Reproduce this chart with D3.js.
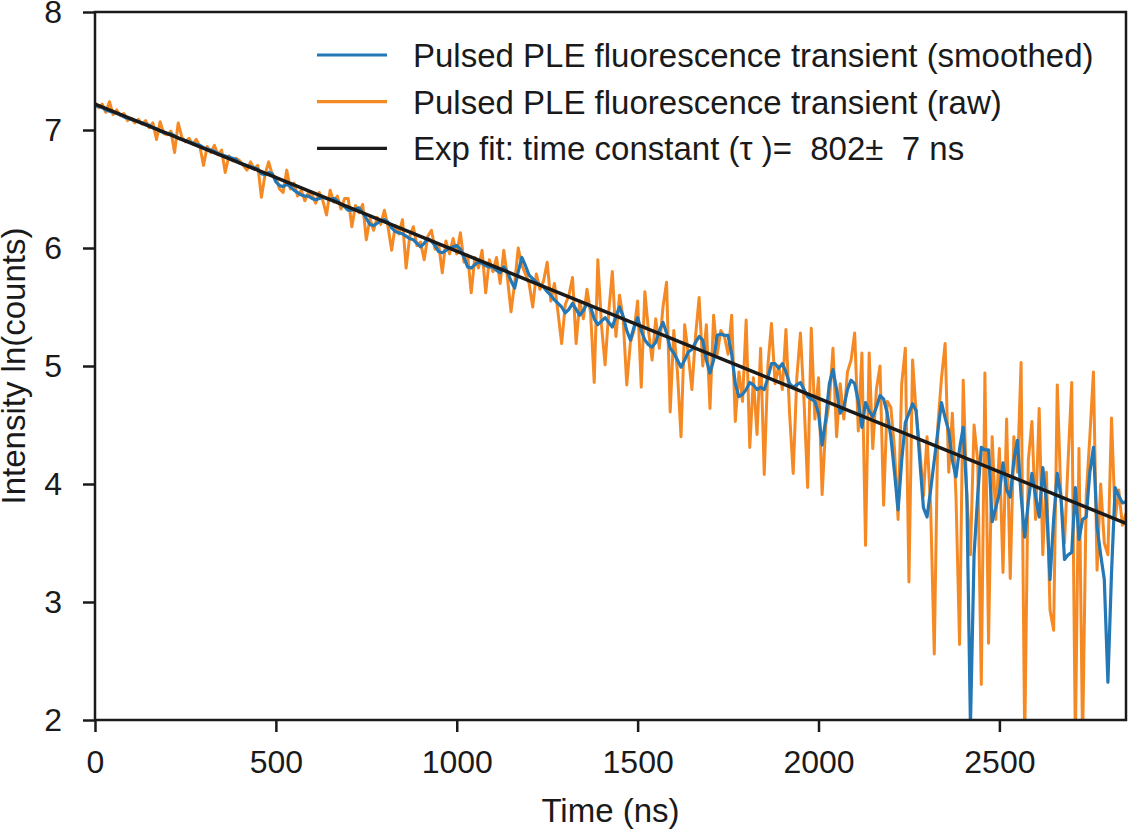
<!DOCTYPE html>
<html>
<head>
<meta charset="utf-8">
<script src="https://cdn.jsdelivr.net/npm/d3@7"></script>
<style>
body { margin: 0; background: #fff; }
text { font-family: "Liberation Sans", Arial, sans-serif; fill: #1a1a1a; }
</style>
</head>
<body>
<svg></svg>
<script>
// time axis, one sample every 10 ns
var timeStep = 10
var times = d3.range(0, 2851, timeStep)

// raw transient, ln(counts)
var rawCounts = [
  7.23, 7.19, 7.22, 7.15, 7.24, 7.13, 7.17, 7.12, 7.14, 7.08,
  7.10, 7.06, 7.09, 7.05, 7.08, 7.02, 7.06, 6.92, 7.07, 6.97,
  6.96, 6.99, 6.81, 7.06, 6.94, 6.90, 6.93, 6.88, 6.92, 6.86,
  6.70, 6.86, 6.81, 6.87, 6.79, 6.83, 6.64, 6.78, 6.74, 6.76,
  6.74, 6.70, 6.66, 6.73, 6.67, 6.70, 6.43, 6.62, 6.73, 6.62,
  6.60, 6.50, 6.47, 6.66, 6.50, 6.55, 6.44, 6.49, 6.40, 6.47,
  6.45, 6.38, 6.47, 6.40, 6.28, 6.49, 6.39, 6.44, 6.33, 6.42,
  6.42, 6.18, 6.36, 6.30, 6.37, 6.07, 6.25, 6.15, 6.26, 6.20,
  6.32, 6.18, 5.98, 6.19, 6.12, 6.24, 5.83, 6.10, 6.18, 6.02,
  6.05, 5.90, 6.10, 6.15, 5.99, 6.03, 5.79, 6.06, 5.95, 6.08,
  5.95, 6.13, 5.88, 5.94, 5.62, 5.92, 5.83, 5.98, 5.62, 5.90,
  5.80, 5.92, 5.70, 5.98, 5.75, 5.46, 5.70, 6.00, 5.85, 5.78,
  5.70, 5.50, 5.78, 5.65, 5.72, 5.88, 5.55, 5.70, 5.45, 5.19,
  5.52, 5.60, 5.75, 5.19, 5.55, 5.40, 5.65, 5.45, 4.86, 5.90,
  5.35, 5.01, 5.45, 5.80, 5.25, 5.60, 5.40, 4.84, 5.20, 5.30,
  5.55, 4.82, 5.63, 5.30, 5.05, 5.40, 5.15, 5.50, 5.71, 4.61,
  5.30, 4.95, 4.40, 5.35, 5.10, 4.80, 5.25, 5.58, 5.00, 5.35,
  4.64, 5.43, 5.10, 5.30, 5.25, 5.10, 5.43, 4.53, 4.95, 4.70,
  5.39, 4.31, 4.90, 4.42, 5.15, 4.08, 5.00, 5.36, 4.85, 5.00,
  4.80, 5.31, 4.60, 4.09, 4.90, 5.28, 4.70, 3.97, 5.32, 4.55,
  4.90, 3.91, 4.50, 4.70, 5.15, 4.40, 4.85, 4.55, 4.95, 5.05,
  5.28, 4.45, 5.11, 3.48, 5.11, 4.30, 4.80, 5.00, 3.82, 4.70,
  4.65, 4.30, 3.70, 4.85, 5.15, 3.17, 5.05, 4.60, 4.30, 3.90,
  4.40, 3.80, 2.56, 4.50, 4.90, 5.19, 4.10, 4.60, 3.90, 2.64,
  4.88, 3.90, 3.40, 4.50, 4.20, 2.30, 4.94, 2.65, 4.40, 3.70,
  4.30, 3.25, 4.55, 3.20, 4.40, 4.10, 5.03, 1.80, 4.20, 4.53,
  3.70, 4.64, 3.40, 4.10, 2.93, 2.76, 4.84, 3.90, 3.50, 4.20,
  4.86, 1.80, 4.30, 1.80, 3.90, 4.40, 4.95, 3.27, 4.00, 3.50,
  3.40, 4.56, 3.70, 3.95, 3.65, 3.75
]

// smoothed transient, ln(counts)
var smoothCounts = [
  7.21, 7.20, 7.19, 7.17, 7.16, 7.15, 7.14, 7.13, 7.11, 7.10,
  7.09, 7.08, 7.07, 7.06, 7.05, 7.04, 7.02, 7.01, 6.99, 6.98,
  6.97, 6.97, 6.95, 6.93, 6.92, 6.91, 6.90, 6.89, 6.88, 6.87,
  6.85, 6.84, 6.83, 6.82, 6.80, 6.79, 6.78, 6.77, 6.76, 6.75,
  6.72, 6.71, 6.70, 6.69, 6.68, 6.67, 6.63, 6.62, 6.64, 6.63,
  6.56, 6.53, 6.52, 6.54, 6.52, 6.49, 6.47, 6.45, 6.44, 6.44,
  6.42, 6.41, 6.42, 6.43, 6.42, 6.41, 6.42, 6.40, 6.37, 6.35,
  6.32, 6.32, 6.33, 6.34, 6.30, 6.25, 6.20, 6.19, 6.21, 6.23,
  6.24, 6.22, 6.17, 6.14, 6.13, 6.12, 6.10, 6.08, 6.07, 6.04,
  6.01, 6.04, 6.08, 6.06, 6.02, 5.97, 5.96, 5.98, 6.00, 6.01,
  6.02, 5.99, 5.92, 5.84, 5.83, 5.86, 5.88, 5.87, 5.85, 5.84,
  5.84, 5.81, 5.79, 5.84, 5.80, 5.72, 5.66, 5.80, 5.92, 5.85,
  5.77, 5.74, 5.71, 5.69, 5.67, 5.63, 5.60, 5.56, 5.53, 5.50,
  5.45, 5.48, 5.53, 5.48, 5.43, 5.47, 5.53, 5.50, 5.40, 5.35,
  5.38, 5.41, 5.37, 5.33, 5.42, 5.50, 5.42, 5.30, 5.22, 5.33,
  5.41, 5.30, 5.22, 5.18, 5.16, 5.20, 5.30, 5.37, 5.28, 5.15,
  5.11, 5.05, 4.99, 5.05, 5.12, 5.14, 5.20, 5.25, 5.22, 5.05,
  4.94, 5.05, 5.26, 5.27, 5.26, 5.26, 5.10, 4.85, 4.74, 4.76,
  4.80, 4.86, 4.84, 4.80, 4.82, 4.80, 4.90, 5.02, 5.02, 4.98,
  5.02, 4.95, 4.85, 4.82, 4.84, 4.86, 4.80, 4.74, 4.72, 4.70,
  4.60, 4.33, 4.55, 4.85, 4.97, 4.80, 4.60, 4.65, 4.80, 4.88,
  4.85, 4.70, 4.48, 4.69, 4.62, 4.57, 4.65, 4.75, 4.72, 4.60,
  4.40, 4.10, 3.78, 4.20, 4.52, 4.60, 4.68, 4.62, 4.20, 3.80,
  3.72, 3.95, 4.20, 4.45, 4.69, 4.56, 4.45, 4.20, 4.06, 4.30,
  4.48, 3.90, 1.95, 3.40, 3.90, 4.31, 4.29, 4.29, 3.68, 3.80,
  3.92, 4.18, 3.95, 3.89, 4.20, 4.37, 3.90, 3.55, 3.85, 4.09,
  3.90, 3.72, 4.14, 3.85, 3.19, 3.70, 4.09, 3.90, 3.36, 3.40,
  3.42, 3.97, 3.53, 3.70, 3.72, 4.10, 4.31, 3.64, 3.40, 3.19,
  2.32, 3.25, 3.97, 3.90, 3.84, 3.85
]

// exponential fit, straight in ln space
var fitTimes = [0, 2850]
var fitValues = [7.22, 3.666]

var xTicks = [0, 500, 1000, 1500, 2000, 2500]
var yTicks = [2, 3, 4, 5, 6, 7, 8]

var legendLabels = [
  "Pulsed PLE fluorescence transient (smoothed)",
  "Pulsed PLE fluorescence transient (raw)",
  "Exp fit: time constant (\u03c4 )=  802\u00b1  7 ns"
]
var legendColors = ["#2378b5", "#f58a25", "#1a1a1a"]

var screen = {width:1131,height:830}
var margins = {top:12,right:5,bottom:110,left:95}

var setup = function()
{
    var width = screen.width - margins.left - margins.right
    var height = screen.height - margins.top - margins.bottom

    var svg = d3.select("svg")
        .attr("width",screen.width)
        .attr("height",screen.height)

    var xScale = d3.scaleLinear()
                    .domain([0,2850])
                    .range([0,width])

    var yScale = d3.scaleLinear()
                    .domain([2,8])
                    .range([height,0])

    svg.append("defs")
        .append("clipPath")
        .attr("id","plotClip")
        .append("rect")
        .attr("width",width)
        .attr("height",height)

    var graph = svg.append("g")
        .attr("id","graph")
        .attr("transform","translate("+margins.left+","+margins.top+")")

    var xAxis = d3.axisBottom(xScale)
                    .tickValues(xTicks)
                    .tickFormat(d3.format("d"))
                    .tickSize(12)
                    .tickPadding(18)
    var yAxis = d3.axisLeft(yScale)
                    .tickValues(yTicks)
                    .tickFormat(d3.format("d"))
                    .tickSize(12)
                    .tickPadding(21)

    graph.append("g")
        .attr("class","axis")
        .attr("transform","translate(0,"+height+")")
        .call(xAxis)

    graph.append("g")
        .attr("class","axis")
        .call(yAxis)

    graph.selectAll(".axis .domain").remove()
    graph.selectAll(".axis line")
        .attr("stroke","#1a1a1a")
        .attr("stroke-width",2.5)
    graph.selectAll(".axis text")
        .style("font-size","32px")
        .attr("fill","#1a1a1a")

    var makeLine = d3.line()
        .x(function(d){return xScale(d[0])})
        .y(function(d){return yScale(d[1])})

    var lines = graph.append("g").attr("clip-path","url(#plotClip)")

    lines.append("path")
        .datum(d3.zip(times,rawCounts))
        .attr("d",makeLine)
        .attr("fill","none")
        .attr("stroke",legendColors[1])
        .attr("stroke-width",3)
        .attr("stroke-linejoin","round")

    lines.append("path")
        .datum(d3.zip(times,smoothCounts))
        .attr("d",makeLine)
        .attr("fill","none")
        .attr("stroke",legendColors[0])
        .attr("stroke-width",3.2)
        .attr("stroke-linejoin","round")

    lines.append("path")
        .datum(d3.zip(fitTimes,fitValues))
        .attr("d",makeLine)
        .attr("fill","none")
        .attr("stroke",legendColors[2])
        .attr("stroke-width",3.5)

    // frame
    graph.append("rect")
        .attr("width",width)
        .attr("height",height)
        .attr("fill","none")
        .attr("stroke","#1a1a1a")
        .attr("stroke-width",2.5)

    // legend
    var legend = graph.selectAll(".legendRow")
        .data(legendLabels)
        .enter()
        .append("g")
        .attr("class","legendRow")
        .attr("transform",function(d,i){return "translate(222,"+(43+i*46.7)+")"})

    legend.append("line")
        .attr("x1",0)
        .attr("x2",70)
        .attr("stroke",function(d,i){return legendColors[i]})
        .attr("stroke-width",3.2)

    legend.append("text")
        .attr("x",96)
        .attr("dy","0.36em")
        .style("font-size","33px")
        .style("white-space","pre")
        .text(function(d){return d})

    svg.append("text")
        .attr("x",margins.left+width/2)
        .attr("y",822)
        .attr("text-anchor","middle")
        .style("font-size","33px")
        .text("Time (ns)")

    svg.append("text")
        .attr("transform","translate(25,"+(margins.top+height/2)+") rotate(-90)")
        .attr("text-anchor","middle")
        .style("font-size","33px")
        .text("Intensity ln(counts)")
}

setup()
</script>
</body>
</html>
